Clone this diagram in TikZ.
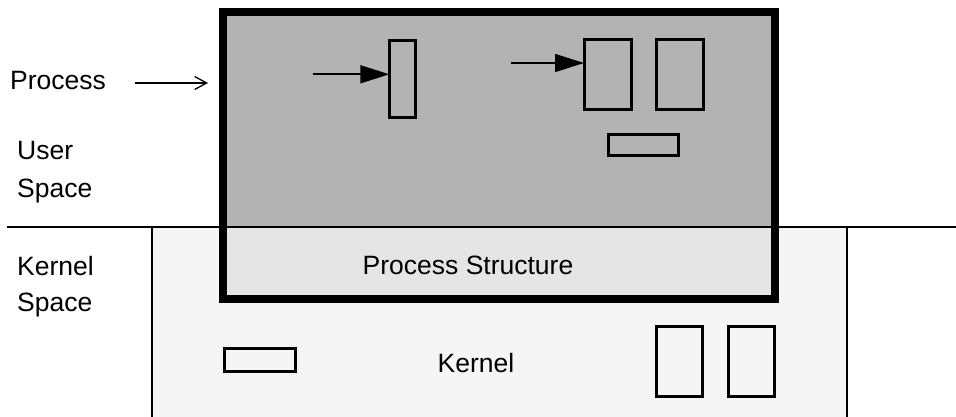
\documentclass[tikz,border=0pt]{standalone}
\usepackage{fontspec}
\setmainfont{Liberation Sans}
\usetikzlibrary{arrows.meta}
\definecolor{usergray}{HTML}{B3B3B3}
\definecolor{structgray}{HTML}{E5E5E5}
\definecolor{kernelgray}{HTML}{F5F5F5}
\tikzset{
  box/.style={draw, line width=3pt, inner sep=0pt, outer sep=0pt},
  lbl/.style={font=\fontsize{26.5}{31}\selectfont, inner sep=0pt, anchor=base west},
  ctr/.style={font=\fontsize{26.5}{31}\selectfont, inner sep=0pt},
  bigarrow/.style={line width=1.6pt, -{Triangle[length=29pt,width=18pt]}},
  openarrow/.style={line width=1.3pt, -{Straight Barb[length=12pt,width=13pt,line width=1.3pt]}}
}
\begin{document}
\begin{tikzpicture}[x=1pt,y=-1pt]
\useasboundingbox (0,0) rectangle (956,417);
% kernel area
\fill[kernelgray] (152,227) rectangle (847,417);
\draw[line width=2.2pt] (152,227) -- (152,417);
\draw[line width=2.2pt] (847,227) -- (847,417);
% process fills
\fill[usergray] (223,12) rectangle (775,227);
\fill[structgray] (223,227) rectangle (775,299);
% user/kernel divider
\coordinate (divL) at (7,227);
\coordinate (divR) at (956,227);
\draw[line width=2.2pt] (divL) -- (divR);
% process border
\draw[line width=7.5pt] (223,12) rectangle (775,299);
% user space boxes
\node[box, minimum width=26pt, minimum height=77pt] (b1) at (402.3,79.3) {};
\node[box, minimum width=47pt, minimum height=70pt] (b2) at (607.5,75) {};
\node[box, minimum width=47pt, minimum height=70pt] (b3) at (679.5,75) {};
\node[box, minimum width=70pt, minimum height=21pt] (b4) at (643.3,145.3) {};
% kernel boxes
\node[box, minimum width=71pt, minimum height=23pt] (k1) at (259.6,359.5) {};
\node[box, minimum width=46pt, minimum height=70pt] (k2) at (679.5,361.3) {};
\node[box, minimum width=46pt, minimum height=70pt] (k3) at (751.5,361.3) {};
% arrows into boxes
\coordinate (a1) at (312.7,74.3);
\draw[bigarrow] (a1) -- (b1.west |- a1);
\coordinate (a2) at (510.7,63);
\draw[bigarrow] (a2) -- (b2.west |- a2);
% labels
\node[lbl] (proc) at (10,90) {Process};
\coordinate (pa0) at (135,83);
\coordinate (pa1) at (208,83);
\draw[openarrow] (pa0) -- (pa1);
\node[lbl] (user) at (17,160) {User};
\node[lbl] (uspace) at (17,197) {Space};
\node[lbl] (kern) at (17,275) {Kernel};
\node[lbl] (kspace) at (17,311) {Space};
\node[ctr] (ps) at (468,265) {Process Structure};
\node[ctr] (kt) at (476,363) {Kernel};
\end{tikzpicture}
\end{document}
